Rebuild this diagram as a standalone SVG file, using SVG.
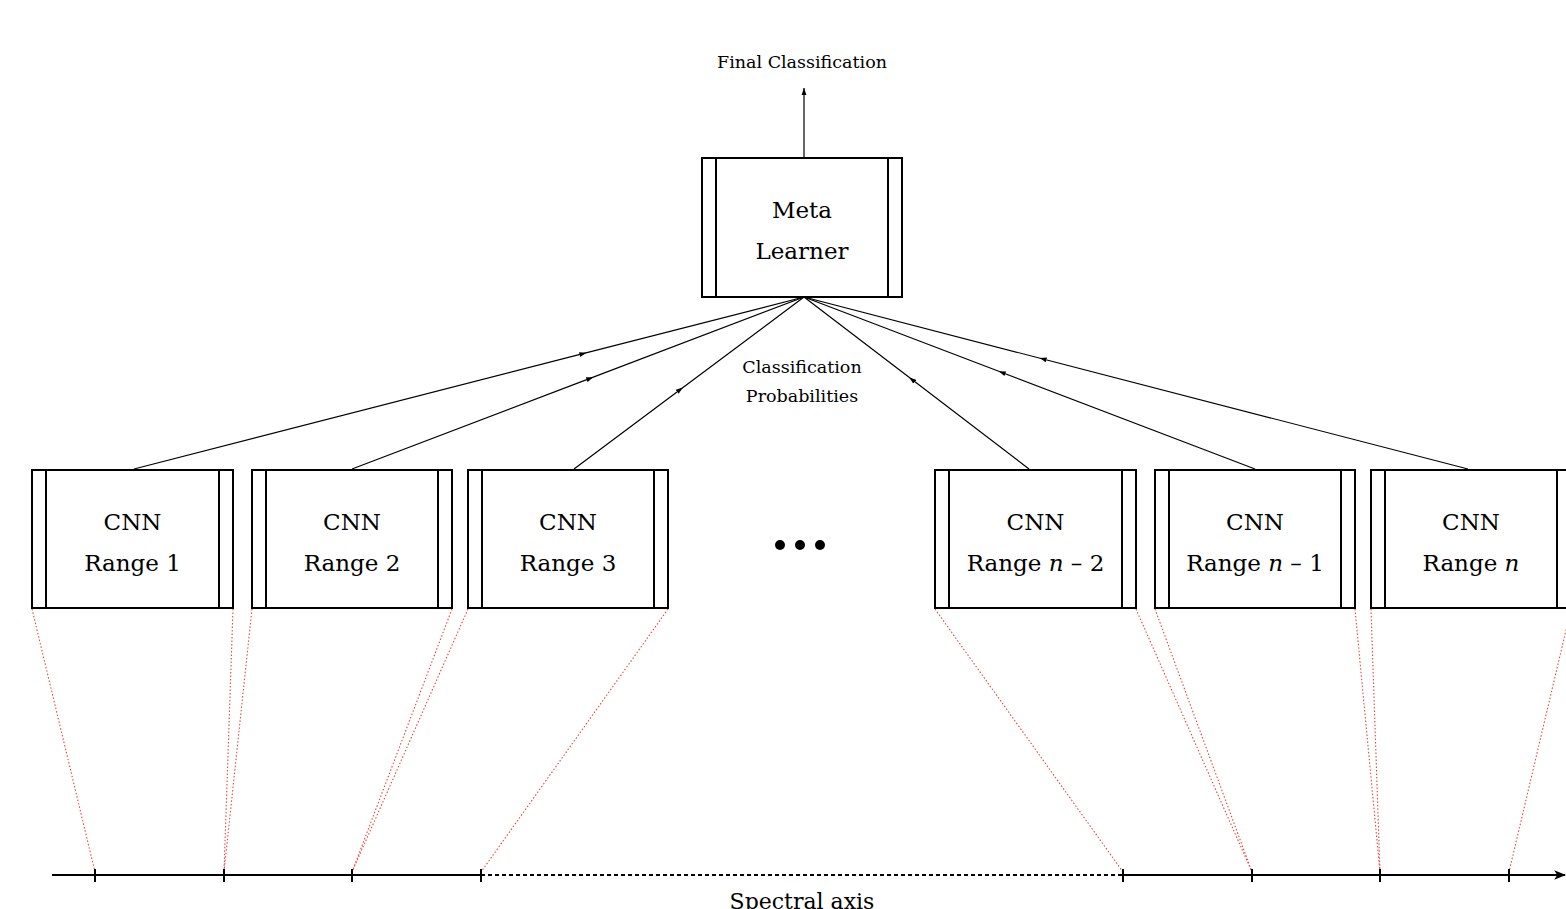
<svg xmlns="http://www.w3.org/2000/svg" width="1566" height="909" viewBox="0 0 1566 909">
<style>
.box{fill:#fff;stroke:#000;stroke-width:2}
.inner{stroke:#000;stroke-width:2}
.lbl{font-family:"DejaVu Serif","Liberation Serif",serif;font-size:23px;fill:#000;text-anchor:middle}
.small{font-family:"DejaVu Serif","Liberation Serif",serif;font-size:17.5px;fill:#000;text-anchor:middle}
.axlbl{font-family:"DejaVu Serif","Liberation Serif",serif;font-size:22px;fill:#000;text-anchor:middle}
.conn{fill:none;stroke:#000;stroke-width:1.2}
.red{fill:none;stroke:#e8483a;stroke-width:1.1;stroke-dasharray:1.5 2}
.axis{stroke:#000;stroke-width:2;fill:none}
.tick{stroke:#000;stroke-width:2}
</style>
<defs>
<marker id="mid" viewBox="0 0 10 10" refX="5" refY="5" markerWidth="7" markerHeight="7" markerUnits="userSpaceOnUse" orient="auto"><path d="M0,1.5 L10,5 L0,8.5 Z" fill="#000"/></marker>
<marker id="end" viewBox="0 0 10 10" refX="10" refY="5" markerWidth="7" markerHeight="7" markerUnits="userSpaceOnUse" orient="auto"><path d="M0,1.5 L10,5 L0,8.5 Z" fill="#000"/></marker>
<marker id="axend" viewBox="0 0 10 10" refX="9" refY="5" markerWidth="12" markerHeight="12" markerUnits="userSpaceOnUse" orient="auto"><path d="M0,1 L10,5 L0,9 L2.5,5 Z" fill="#000"/></marker>
</defs>

<g id="connectors">
<path class="conn" d="M804,158 L804,88" marker-end="url(#end)"/>
<path class="conn" d="M134,469 L583,353.7 L804,297" marker-mid="url(#mid)"/>
<path class="conn" d="M352,469 L590,378.4 L804,297" marker-mid="url(#mid)"/>
<path class="conn" d="M574,469 L680,389.7 L804,297" marker-mid="url(#mid)"/>
<path class="conn" d="M1029,469 L912,379.6 L804,297" marker-mid="url(#mid)"/>
<path class="conn" d="M1255,469 L1002,372.5 L804,297" marker-mid="url(#mid)"/>
<path class="conn" d="M1468,469 L1043,359 L804,297" marker-mid="url(#mid)"/>
</g>

<g id="range-links">
<line class="red" x1="32" y1="609" x2="95" y2="872"/>
<line class="red" x1="233" y1="609" x2="224" y2="872"/>
<line class="red" x1="252" y1="609" x2="224" y2="872"/>
<line class="red" x1="452" y1="609" x2="352" y2="872"/>
<line class="red" x1="468" y1="609" x2="352" y2="872"/>
<line class="red" x1="668" y1="609" x2="481" y2="872"/>
<line class="red" x1="935" y1="609" x2="1123" y2="872"/>
<line class="red" x1="1136" y1="609" x2="1252" y2="872"/>
<line class="red" x1="1155" y1="609" x2="1252" y2="872"/>
<line class="red" x1="1355" y1="609" x2="1380" y2="872"/>
<line class="red" x1="1371" y1="609" x2="1380" y2="872"/>
<line class="red" x1="1571" y1="609" x2="1509" y2="872"/>
</g>

<text class="small" x="802" y="68">Final Classification</text>

<g id="meta">
<rect class="box" x="702" y="158" width="200" height="139"/>
<line class="inner" x1="716" y1="158" x2="716" y2="297"/>
<line class="inner" x1="888" y1="158" x2="888" y2="297"/>
<text class="lbl" x="802" y="218">Meta</text>
<text class="lbl" x="802" y="259">Learner</text>
</g>

<text class="small" x="802" y="373">Classification</text>
<text class="small" x="802" y="402">Probabilities</text>

<g id="cnn1">
<rect class="box" x="32" y="470" width="201" height="138"/>
<line class="inner" x1="46" y1="470" x2="46" y2="608"/>
<line class="inner" x1="219" y1="470" x2="219" y2="608"/>
<text class="lbl" x="132.5" y="530">CNN</text>
<text class="lbl" x="132.5" y="571">Range 1</text>
</g>
<g id="cnn2">
<rect class="box" x="252" y="470" width="200" height="138"/>
<line class="inner" x1="266" y1="470" x2="266" y2="608"/>
<line class="inner" x1="438" y1="470" x2="438" y2="608"/>
<text class="lbl" x="352" y="530">CNN</text>
<text class="lbl" x="352" y="571">Range 2</text>
</g>
<g id="cnn3">
<rect class="box" x="468" y="470" width="200" height="138"/>
<line class="inner" x1="482" y1="470" x2="482" y2="608"/>
<line class="inner" x1="654" y1="470" x2="654" y2="608"/>
<text class="lbl" x="568" y="530">CNN</text>
<text class="lbl" x="568" y="571">Range 3</text>
</g>

<g id="ellipsis">
<circle cx="780" cy="545" r="5" fill="#000"/>
<circle cx="800" cy="545" r="5" fill="#000"/>
<circle cx="820" cy="545" r="5" fill="#000"/>
</g>

<g id="cnn-n2">
<rect class="box" x="935" y="470" width="201" height="138"/>
<line class="inner" x1="949" y1="470" x2="949" y2="608"/>
<line class="inner" x1="1122" y1="470" x2="1122" y2="608"/>
<text class="lbl" x="1035.5" y="530">CNN</text>
<text class="lbl" x="1035.5" y="571">Range <tspan font-style="italic">n</tspan> – 2</text>
</g>
<g id="cnn-n1">
<rect class="box" x="1155" y="470" width="200" height="138"/>
<line class="inner" x1="1169" y1="470" x2="1169" y2="608"/>
<line class="inner" x1="1341" y1="470" x2="1341" y2="608"/>
<text class="lbl" x="1255" y="530">CNN</text>
<text class="lbl" x="1255" y="571">Range <tspan font-style="italic">n</tspan> – 1</text>
</g>
<g id="cnn-n">
<rect class="box" x="1371" y="470" width="200" height="138"/>
<line class="inner" x1="1385" y1="470" x2="1385" y2="608"/>
<line class="inner" x1="1557" y1="470" x2="1557" y2="608"/>
<text class="lbl" x="1471" y="530">CNN</text>
<text class="lbl" x="1471" y="571">Range <tspan font-style="italic">n</tspan></text>
</g>

<g id="axis">
<line class="axis" x1="52" y1="875" x2="481" y2="875"/>
<line class="axis" x1="481" y1="875" x2="1123" y2="875" stroke-dasharray="4 3" stroke-width="1.6"/>
<line class="axis" x1="1123" y1="875" x2="1565" y2="875" marker-end="url(#axend)"/>
<line class="tick" x1="95" y1="869" x2="95" y2="882"/>
<line class="tick" x1="224" y1="869" x2="224" y2="882"/>
<line class="tick" x1="352" y1="869" x2="352" y2="882"/>
<line class="tick" x1="481" y1="869" x2="481" y2="882"/>
<line class="tick" x1="1123" y1="869" x2="1123" y2="882"/>
<line class="tick" x1="1252" y1="869" x2="1252" y2="882"/>
<line class="tick" x1="1380" y1="869" x2="1380" y2="882"/>
<line class="tick" x1="1509" y1="869" x2="1509" y2="882"/>
<text class="axlbl" x="802" y="909">Spectral axis</text>
</g>
</svg>
